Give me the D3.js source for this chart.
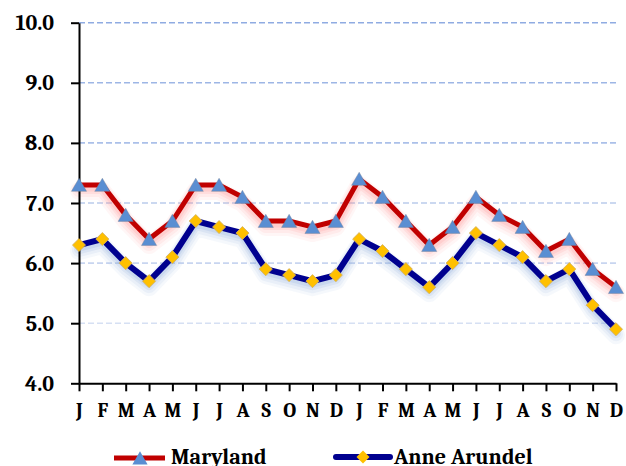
<!DOCTYPE html>
<html><head><meta charset="utf-8">
<script src="https://cdn.jsdelivr.net/npm/d3@7"></script>
</head>
<body style="margin:0">
<script>
const categories = ["J","F","M","A","M","J","J","A","S","O","N","D",
                    "J","F","M","A","M","J","J","A","S","O","N","D"];
const maryland = [7.3,7.3,6.8,6.4,6.7,7.3,7.3,7.1,6.7,6.7,6.6,6.7,
                  7.4,7.1,6.7,6.3,6.6,7.1,6.8,6.6,6.2,6.4,5.9,5.6];
const anneArundel = [6.3,6.4,6.0,5.7,6.1,6.7,6.6,6.5,5.9,5.8,5.7,5.8,
                     6.4,6.2,5.9,5.6,6.0,6.5,6.3,6.1,5.7,5.9,5.3,4.9];
const yTicks = [4,5,6,7,8,9,10];
const seriesNames = ["Maryland","Anne Arundel"];

const FONT = "Cambria";
const W = 626, H = 466;
const svg = d3.select("body").append("svg").attr("width", W).attr("height", H);

function styleText(sel, size) {
  sel.style("font-family", `"${FONT}"`).style("font-weight", "bold").style("font-size", size + "px")
     .attr("fill", "#000");
}

const x = d3.scalePoint().domain(d3.range(categories.length)).range([79, 616]);
const y = d3.scaleLinear().domain([4, 10]).range([383.3, 22.7]);

// gridlines
const gridColors = d3.scaleLinear().domain([5, 10]).range(["#d6e0f3", "#8fabe2"]);
svg.append("g").selectAll("line").data(yTicks.filter(t => t > 4)).join("line")
  .attr("x1", x(0)).attr("x2", x(categories.length - 1))
  .attr("y1", d => y(d)).attr("y2", d => y(d))
  .attr("stroke", d => gridColors(d)).attr("stroke-width", 1.6)
  .attr("stroke-dasharray", "6,3");

// series
const series = [
  {name: seriesNames[0], values: maryland, color: "#c00000", glow: "#ff8c8c", width: 5},
  {name: seriesNames[1], values: anneArundel, color: "#00008f", glow: "#7fa3d6", width: 6}
];
const line = d3.line().x((d, i) => x(i)).y(d => y(d));

// soft glow built from layered translucent strokes
const glowLayers = [{w: 18, dy: 6, op: 0.08}, {w: 14, dy: 5, op: 0.1}, {w: 10, dy: 4, op: 0.14}, {w: 7, dy: 3, op: 0.18}];
series.forEach(s => {
  glowLayers.forEach(g => {
    svg.append("path").datum(s.values).attr("d", line)
      .attr("fill", "none").attr("stroke", s.glow).attr("stroke-width", g.w)
      .attr("stroke-linejoin", "round").attr("stroke-linecap", "round").attr("opacity", g.op)
      .attr("transform", `translate(0,${g.dy})`);
  });
});

// axes
const yAxis = d3.axisLeft(y).tickValues(yTicks).tickFormat(d3.format(".1f"))
  .tickSize(8).tickSizeOuter(0).tickPadding(17);
const gy = svg.append("g").attr("transform", `translate(${x(0)},0)`).call(yAxis);
gy.attr("font-family", null).attr("font-size", null);
gy.select(".domain").attr("stroke", "#000").attr("stroke-width", 2);
gy.selectAll(".tick line").attr("stroke", "#000").attr("stroke-width", 2);
styleText(gy.selectAll(".tick text"), 22);

const xAxis = d3.axisBottom(x).tickFormat(i => categories[i]).tickSize(8).tickSizeOuter(0).tickPadding(12);
const gx = svg.append("g").attr("transform", `translate(0,${y(4)})`).call(xAxis);
gx.attr("font-family", null).attr("font-size", null);
gx.select(".domain").attr("stroke", "#000").attr("stroke-width", 2);
gx.selectAll(".tick line").attr("stroke", "#000").attr("stroke-width", 2);
styleText(gx.selectAll(".tick text"), 20);

series.forEach(s => {
  svg.append("path").datum(s.values).attr("d", line)
    .attr("fill", "none").attr("stroke", s.color).attr("stroke-width", s.width)
    .attr("stroke-linejoin", "miter");
});

// markers
const tri = d3.symbol(d3.symbolTriangle, 100);
const dia = d3.symbol(d3.symbolSquare, 85);
svg.append("g").selectAll("path").data(maryland).join("path")
  .attr("d", tri).attr("fill", "#5a8ed2").attr("stroke", "rgba(120,130,150,0.5)").attr("stroke-width", 0.8)
  .attr("transform", (d, i) => `translate(${x(i)},${y(d) + 2})`);
svg.append("g").selectAll("path").data(anneArundel).join("path")
  .attr("d", dia).attr("fill", "#ffc000").attr("stroke", "#d2b060").attr("stroke-width", 0.8)
  .attr("transform", (d, i) => `translate(${x(i)},${y(d)}) rotate(45)`);

// legend
const legend = svg.append("g");
const lg1 = legend.append("g").attr("transform", "translate(114,458)");
lg1.append("line").attr("x1", 0).attr("x2", 51).attr("stroke", "#c00000").attr("stroke-width", 5);
lg1.append("path").attr("d", tri).attr("fill", "#5a8ed2").attr("transform", "translate(26,2)");
styleText(lg1.append("text").attr("x", 57).attr("y", 6).text(seriesNames[0]), 22);

const lg2 = legend.append("g").attr("transform", "translate(336,457)");
lg2.append("line").attr("x1", 0).attr("x2", 54).attr("stroke", "#00008f").attr("stroke-width", 6).attr("stroke-linecap", "round");
lg2.append("path").attr("d", dia).attr("fill", "#ffc000").attr("transform", "translate(27,0) rotate(45)");
styleText(lg2.append("text").attr("x", 58).attr("y", 7).text(seriesNames[1]), 22);
</script>
</body></html>
